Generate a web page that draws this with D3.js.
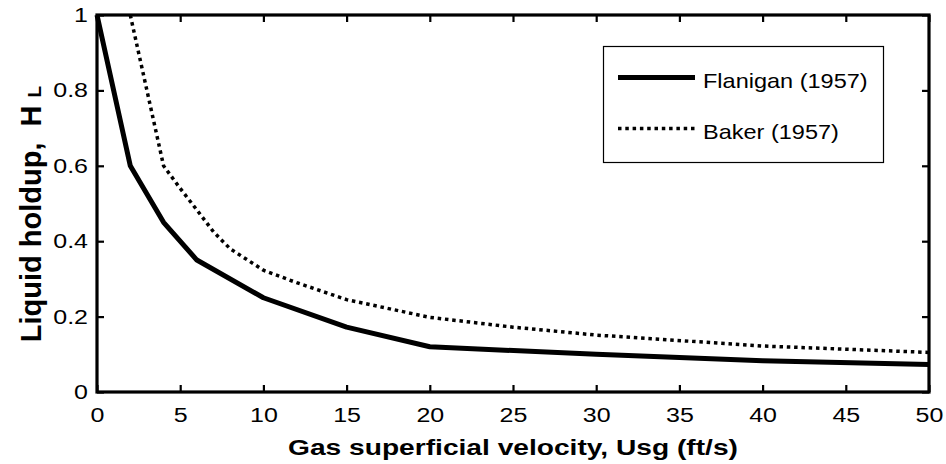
<!DOCTYPE html>
<html>
<head>
<meta charset="utf-8">
<script src="https://cdn.jsdelivr.net/npm/d3@7"></script>
<style>
  body { margin: 0; background: #fff; }
  svg { display: block; font-family: "Liberation Sans", Arial, sans-serif; }
</style>
</head>
<body>
<div id="chart"></div>
<script>
// tick values
const xTicks = [0, 5, 10, 15, 20, 25, 30, 35, 40, 45, 50];
const yTicks = [0, 0.2, 0.4, 0.6, 0.8, 1];

// Flanigan (1957)
const flaniganX = [0, 2, 4, 6, 10, 15, 20, 30, 40, 50];
const flaniganY = [1, 0.6, 0.45, 0.35, 0.25, 0.172, 0.12, 0.1, 0.083, 0.073];

// Baker (1957)
const bakerX = [2, 4, 5, 6, 7, 8, 10, 12, 15, 20, 25, 30, 40, 50];
const bakerY = [1, 0.6, 0.54, 0.483, 0.425, 0.38, 0.323, 0.29, 0.245, 0.198, 0.172, 0.151, 0.122, 0.105];

const seriesNames = ["Flanigan (1957)", "Baker (1957)"];

const W = 946, H = 464;
const margin = {top: 15, right: 17, bottom: 72, left: 97};
// the picture is a bit stretched sideways, so text gets a horizontal scale
const sx = 1.25;

const svg = d3.select("#chart")
  .append("svg")
    .attr("width", W)
    .attr("height", H);

const x = d3.scaleLinear().domain([0, 50]).range([margin.left, W - margin.right]);
const y = d3.scaleLinear().domain([0, 1]).range([H - margin.bottom, margin.top]);

// lines
const line = d3.line().x(d => x(d[0])).y(d => y(d[1]));
const flanigan = flaniganX.map((v, i) => [v, flaniganY[i]]);
const baker = bakerX.map((v, i) => [v, bakerY[i]]);

svg.append("path")
  .datum(flanigan)
  .attr("d", line)
  .attr("fill", "none")
  .attr("stroke", "#000")
  .attr("stroke-width", 5)
  .attr("stroke-linejoin", "round");

svg.append("path")
  .datum(baker)
  .attr("d", line)
  .attr("fill", "none")
  .attr("stroke", "#000")
  .attr("stroke-width", 3.5)
  .attr("stroke-dasharray", "3.5,3.8");

// axes (ticks inside, mirrored on top / right)
const tickLen = 7;
const fmt = d => String(d);

const gx = svg.append("g")
  .attr("transform", `translate(0,${y(0)})`)
  .call(d3.axisBottom(x).tickValues(xTicks).tickSize(-tickLen).tickPadding(16).tickFormat(fmt));
const gxTop = svg.append("g")
  .attr("transform", `translate(0,${y(1)})`)
  .call(d3.axisTop(x).tickValues(xTicks).tickSize(-tickLen).tickFormat(""));
const gy = svg.append("g")
  .attr("transform", `translate(${x(0)},0)`)
  .call(d3.axisLeft(y).tickValues(yTicks).tickSize(-tickLen).tickPadding(9).tickFormat(fmt));
const gyRight = svg.append("g")
  .attr("transform", `translate(${x(50)},0)`)
  .call(d3.axisRight(y).tickValues(yTicks).tickSize(-tickLen).tickFormat(""));

[gx, gxTop, gy, gyRight].forEach(g => {
  g.select(".domain").remove();
  g.selectAll(".tick line").attr("stroke", "#000").attr("stroke-width", 2.2);
  g.selectAll(".tick text").attr("fill", "#000").style("font-size", "20px")
    .style("font-family", "'Liberation Sans', Arial, sans-serif")
    .attr("transform", `scale(${sx},1)`);
});
gy.selectAll(".tick text").attr("x", -9 / sx);

// frame
svg.append("rect")
  .attr("x", x(0))
  .attr("y", y(1))
  .attr("width", x(50) - x(0))
  .attr("height", y(0) - y(1))
  .attr("fill", "none")
  .attr("stroke", "#000")
  .attr("stroke-width", 3.2);

// axis titles
svg.append("text")
  .attr("transform", `translate(${(x(0) + x(50)) / 2},455) scale(1.28,1)`)
  .attr("text-anchor", "middle")
  .style("font-size", "22px")
  .style("font-weight", "bold")
  .text("Gas superficial velocity, Usg (ft/s)");

const yt = svg.append("text")
  .attr("transform", `translate(41,214) rotate(-90)`)
  .attr("text-anchor", "middle")
  .attr("xml:space", "preserve")
  .style("font-size", "29px")
  .style("font-weight", "bold")
  .style("white-space", "pre");
yt.append("tspan").text("Liquid holdup,  H ");
yt.append("tspan").style("font-size", "19px").text("L");

// legend
const lg = svg.append("g");
lg.append("rect")
  .attr("x", 603.5).attr("y", 46.5)
  .attr("width", 280).attr("height", 116)
  .attr("fill", "#fff")
  .attr("stroke", "#000")
  .attr("stroke-width", 1.2);

const legendRows = [
  {name: seriesNames[0], width: 5, dash: null, ly: 77.5},
  {name: seriesNames[1], width: 3.5, dash: "3.5,3.8", ly: 128.5}
];
legendRows.forEach(r => {
  lg.append("line")
    .attr("x1", 618).attr("x2", 695)
    .attr("y1", r.ly).attr("y2", r.ly)
    .attr("stroke", "#000")
    .attr("stroke-width", r.width)
    .attr("stroke-dasharray", r.dash);
  lg.append("text")
    .attr("transform", `translate(703,${r.ly + 10.5}) scale(1.12,1)`)
    .style("font-size", "21px")
    .text(r.name);
});
</script>
</body>
</html>
